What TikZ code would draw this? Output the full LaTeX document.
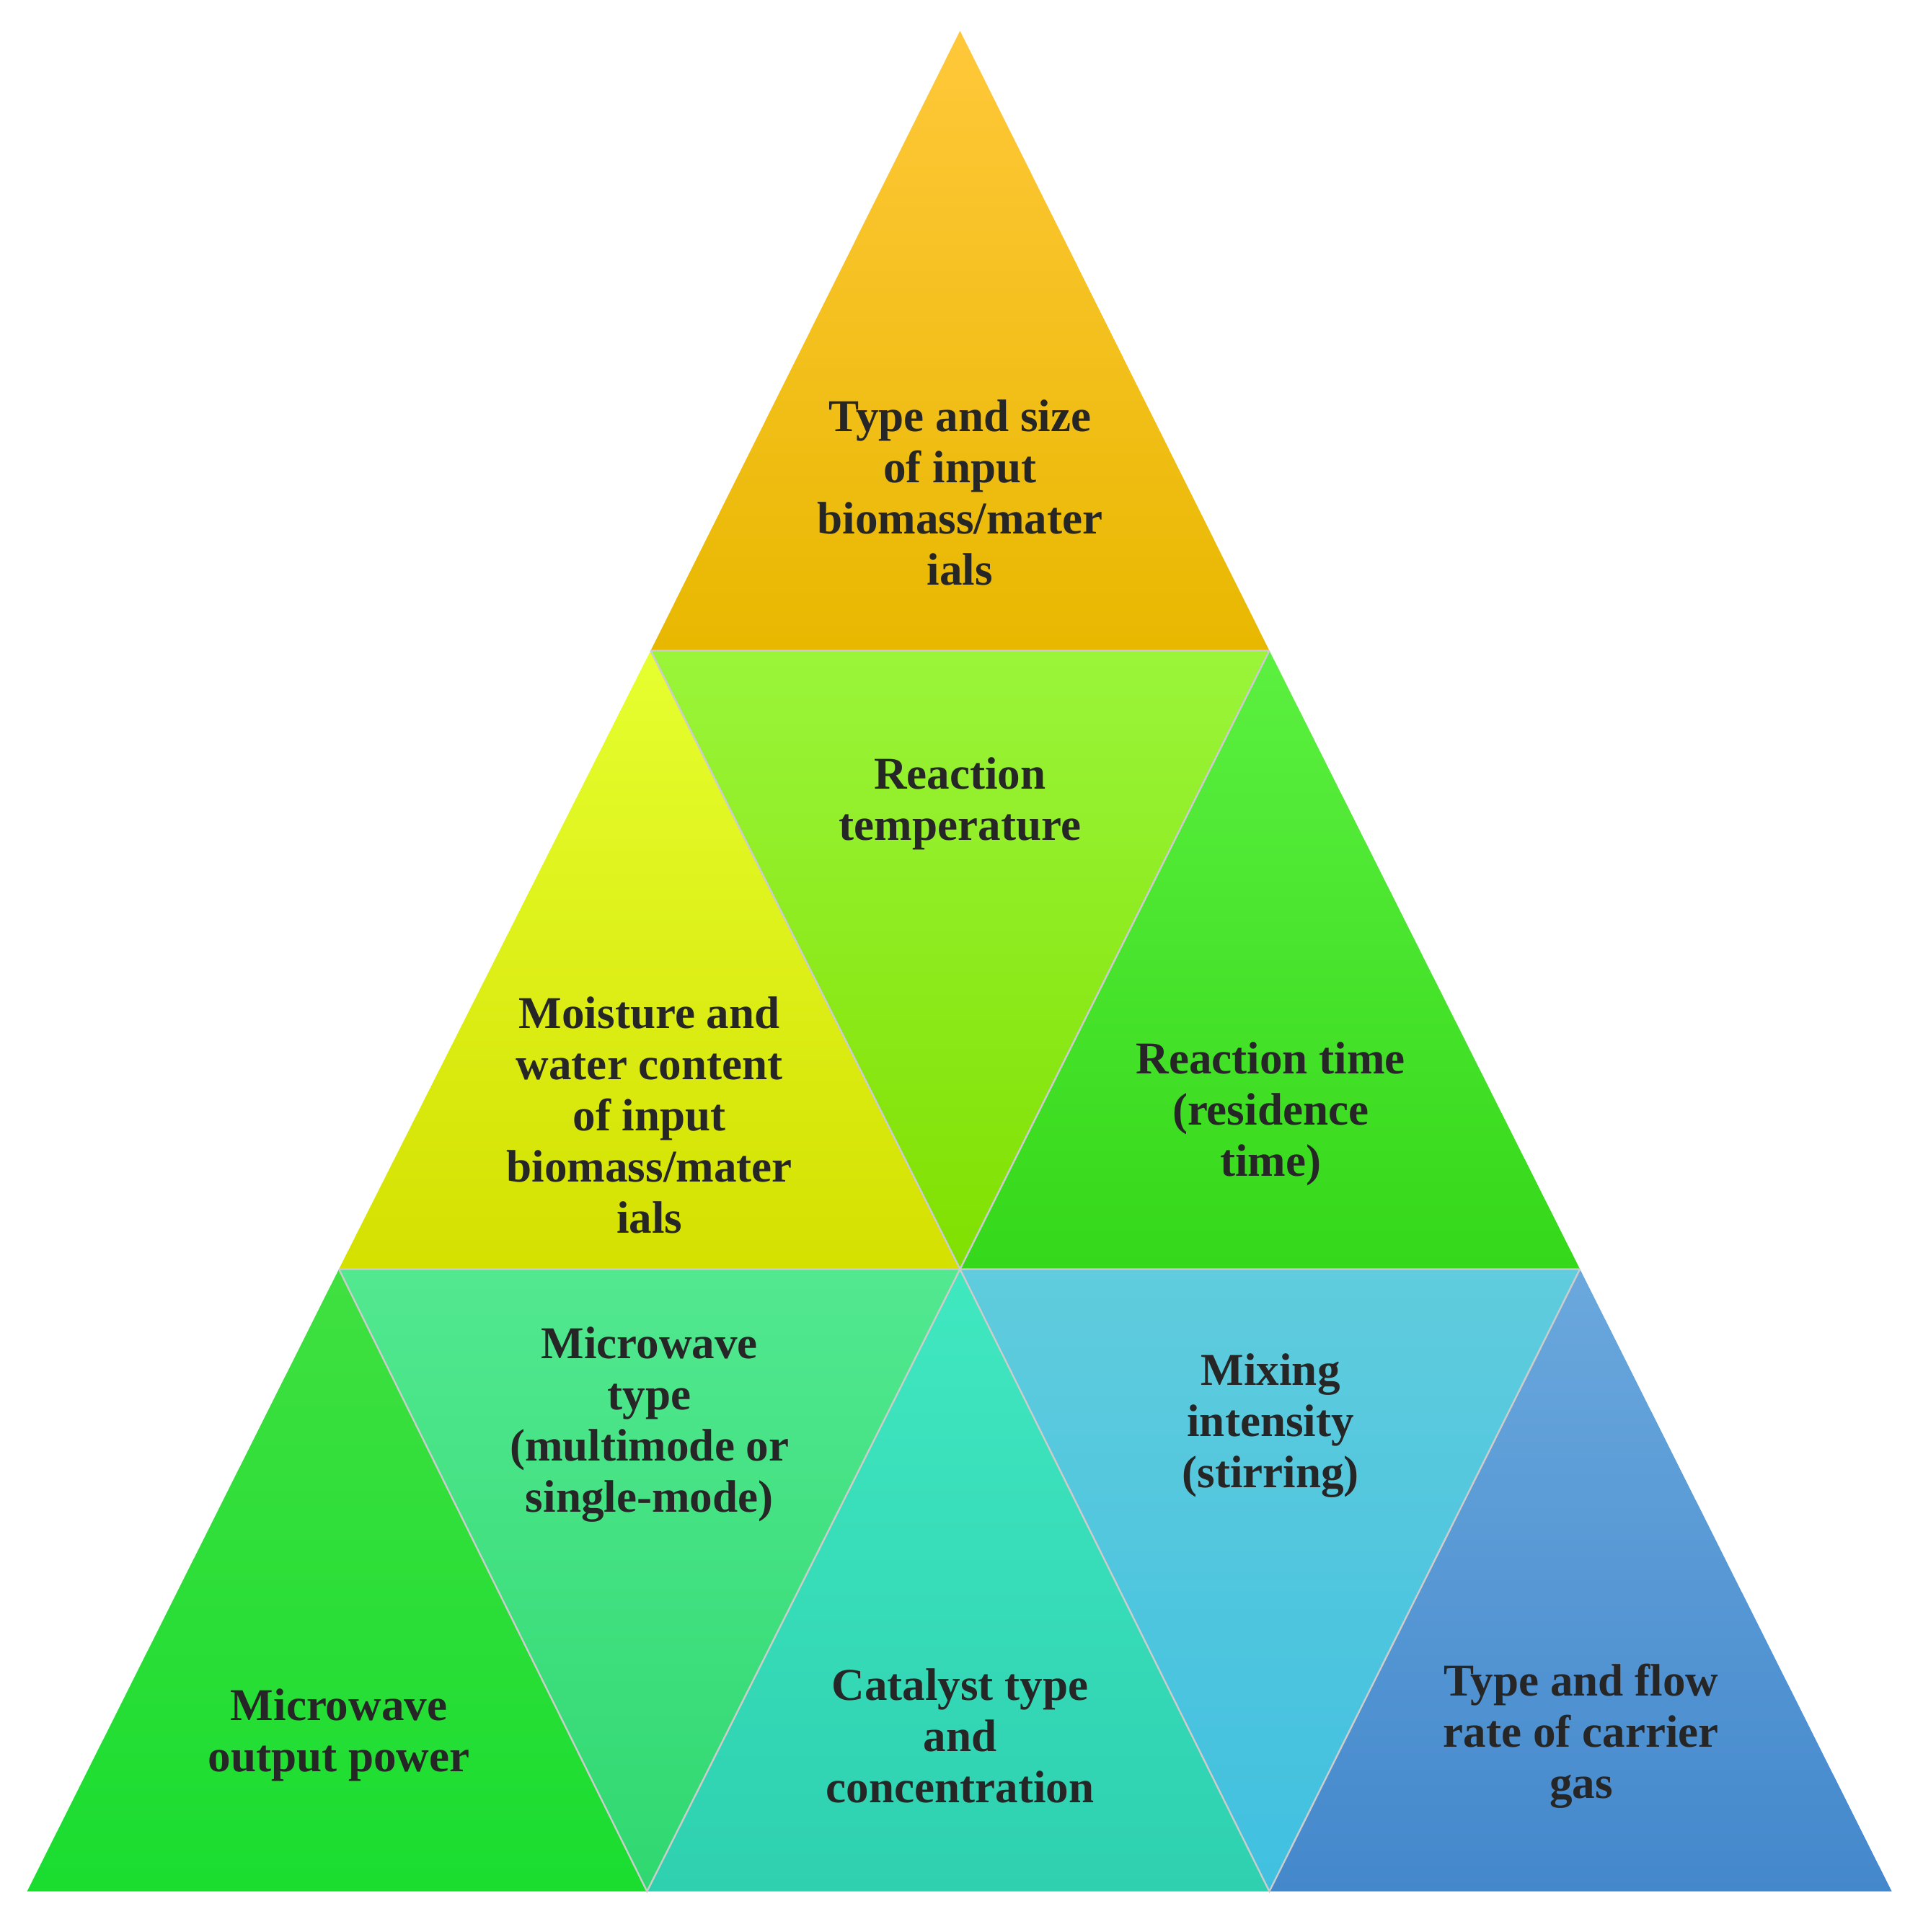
\documentclass[tikz,border=0pt]{standalone}
\usepackage{fontspec}
\setmainfont{Liberation Serif}
\begin{document}
\begin{tikzpicture}[x=0.01cm,y=-0.01cm,
 lab/.style={align=center,font=\fontsize{10.5}{11.8}\selectfont\bfseries,text=black!85},
 edge/.style={draw=white!60!gray,line width=0.4pt}]
\useasboundingbox (0,0) rectangle (1560,1568);
\coordinate (A) at (779,25);
\coordinate (L1) at (528,528); \coordinate (R1) at (1030,528);
\coordinate (L2) at (275,1030); \coordinate (M2) at (779,1030); \coordinate (R2) at (1282,1030);
\coordinate (B0) at (22,1535); \coordinate (B1) at (525,1535); \coordinate (B2) at (1030,1535); \coordinate (B3) at (1535,1535);
\shade[top color={rgb,255:red,255;green,200;blue,58}, bottom color={rgb,255:red,232;green,184;blue,0}] (A)--(L1)--(R1)--cycle;
\shade[top color={rgb,255:red,230;green,255;blue,48}, bottom color={rgb,255:red,212;green,224;blue,0}] (L1)--(L2)--(M2)--cycle;
\shade[top color={rgb,255:red,154;green,245;blue,58}, bottom color={rgb,255:red,128;green,224;blue,0}] (L1)--(R1)--(M2)--cycle;
\shade[top color={rgb,255:red,92;green,240;blue,64}, bottom color={rgb,255:red,53;green,216;blue,26}] (R1)--(M2)--(R2)--cycle;
\shade[top color={rgb,255:red,64;green,224;blue,64}, bottom color={rgb,255:red,26;green,221;blue,48}] (L2)--(B0)--(B1)--cycle;
\shade[top color={rgb,255:red,82;green,232;blue,144}, bottom color={rgb,255:red,48;green,216;blue,112}] (L2)--(M2)--(B1)--cycle;
\shade[top color={rgb,255:red,64;green,232;blue,192}, bottom color={rgb,255:red,46;green,208;blue,176}] (M2)--(B1)--(B2)--cycle;
\shade[top color={rgb,255:red,96;green,204;blue,221}, bottom color={rgb,255:red,64;green,192;blue,224}] (M2)--(R2)--(B2)--cycle;
\shade[top color={rgb,255:red,106;green,168;blue,221}, bottom color={rgb,255:red,68;green,136;blue,204}] (R2)--(B2)--(B3)--cycle;
\draw[edge] (L1)--(R1) (L2)--(R2) (L1)--(M2)--(R1) (L2)--(B1)--(M2)--(B2)--(R2);
\node[lab] (t1) at (779,400) {Type and size\\of input\\biomass/mater\\ials};
\node[lab] (t2) at (527,905) {Moisture and\\water content\\of input\\biomass/mater\\ials};
\node[lab] (t3) at (779,652) {Reaction\\temperature};
\node[lab] (t4) at (1031,904) {Reaction time\\(residence\\time)};
\node[lab] (t5) at (275,1408) {Microwave\\output power};
\node[lab] (t6) at (527,1156) {Microwave\\type\\(multimode or\\single-mode)};
\node[lab] (t7) at (779,1409) {Catalyst type\\and\\concentration};
\node[lab] (t8) at (1031,1157) {Mixing\\intensity\\(stirring)};
\node[lab] (t9) at (1283,1409) {Type and flow\\rate of carrier\\gas};
\end{tikzpicture}
\end{document}
